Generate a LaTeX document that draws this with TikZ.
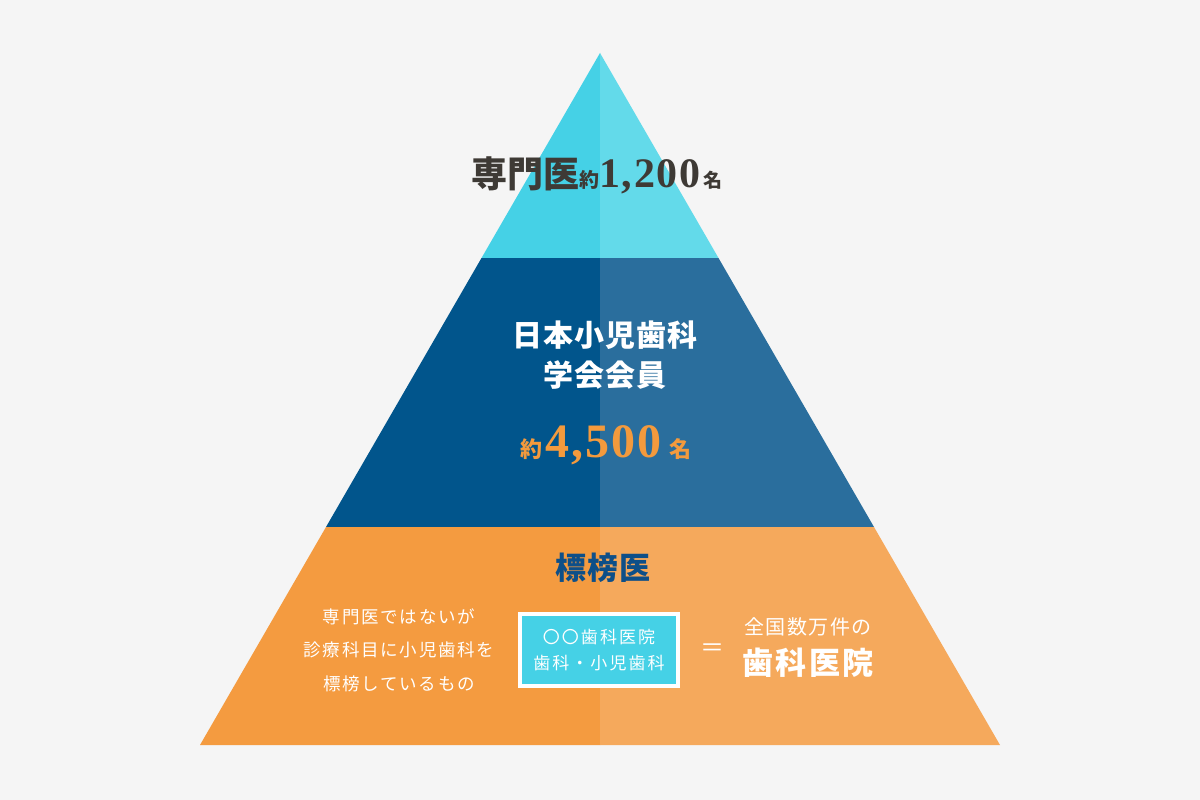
\documentclass[tikz,border=0pt]{standalone}
\usepackage{fontspec}
\newfontfamily\jp{Noto Sans CJK JP}
\newfontfamily\jpa{Noto Sans CJK JP}[LetterSpace=4]
\newfontfamily\jpb{Noto Sans CJK JP}[LetterSpace=10]
\newfontfamily\jpc{Noto Sans CJK JP}[LetterSpace=12]
\newfontfamily\jpd{Noto Sans CJK JP}[LetterSpace=7]
\newfontfamily\ser{Liberation Serif}[LetterSpace=4]
\definecolor{bg}{HTML}{F5F5F5}
\definecolor{cyL}{HTML}{45D1E6}
\definecolor{cyR}{HTML}{63DAEA}
\definecolor{blL}{HTML}{01558C}
\definecolor{blR}{HTML}{2A6E9D}
\definecolor{orL}{HTML}{F49B40}
\definecolor{orR}{HTML}{F5A95C}
\definecolor{ttl}{HTML}{3E3A35}
\definecolor{orT}{HTML}{F39A3D}
\definecolor{blT}{HTML}{0E4F88}
\newcommand\fs[1]{\fontsize{#1}{#1}\selectfont}
\tikzset{txt/.style={inner sep=0pt, align=center, text=white}}
\begin{document}
\begin{tikzpicture}[x=1pt,y=-1pt]
\fill[bg] (0,0) rectangle (1200,800);
\useasboundingbox (0,0) rectangle (1200,800);
\coordinate (A) at (600,53);
\coordinate (L1) at (481.5,258);
\coordinate (C1) at (600,258);
\coordinate (R1) at (718.5,258);
\coordinate (L2) at (326,527);
\coordinate (C2) at (600,527);
\coordinate (R2) at (874,527);
\coordinate (BL) at (200,745);
\coordinate (M) at (600,745);
\coordinate (BR) at (1000,745);
\fill[cyL] (A) -- (C1) -- (L1) -- cycle;
\fill[cyR] (A) -- (R1) -- (C1) -- cycle;
\fill[blL] (L1) -- (C1) -- (C2) -- (L2) -- cycle;
\fill[blR] (C1) -- (R1) -- (R2) -- (C2) -- cycle;
\fill[orL] (L2) -- (C2) -- (M) -- (BL) -- cycle;
\fill[orR] (C2) -- (R2) -- (BR) -- (M) -- cycle;
% top tier
\node[txt, text=ttl] (t1) at (597,175) {\jp\bfseries\fs{36}専門医\fs{20}約\ser\fs{42}1,200\jp\fs{19}\,名};
% middle tier
\node[txt, font=\jpa\bfseries\fontsize{30}{40}\selectfont] (t2) at (605,355) {日本小児歯科\\学会会員};
\node[txt, text=orT] (t3) at (606,445) {\jp\bfseries\fs{22}約\,\ser\fs{48}4,500\,\jp\bfseries\fs{22}名};
% bottom tier
\node[txt, text=blT] (t4) at (603,568) {\jpa\bfseries\fs{31}標榜医};
\node[txt, font=\jpb\fontsize{17.5}{33.5}\selectfont] (t5) at (399,650) {専門医ではないが\\診療科目に小児歯科を\\標榜しているもの};
\node[draw=white, line width=4pt, fill=cyL, minimum width=158, minimum height=72, inner sep=0pt, align=center, text=white, font=\jpc\fontsize{17}{26}\selectfont] (box) at (599,650) {〇〇歯科医院\\歯科・小児歯科};
\node[txt, font=\jp\fs{24}] (eq) at (712,650) {＝};
\node[txt, font=\jpd\fs{20}] (t6) at (808,627) {全国数万件の};
\node[txt, font=\jpd\bfseries\fs{31}] (t7) at (808,663) {歯科医院};
\end{tikzpicture}
\end{document}
